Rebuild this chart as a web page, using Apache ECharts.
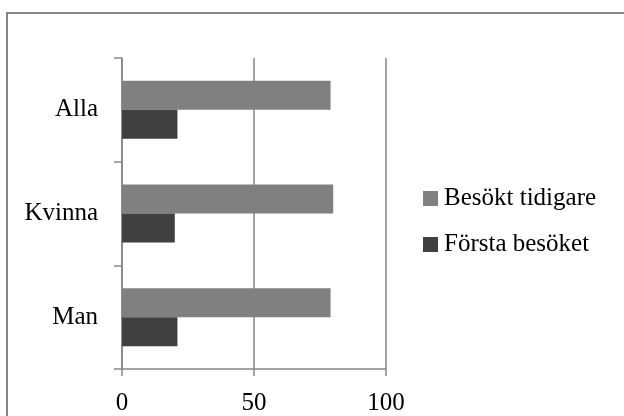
<!DOCTYPE html>
<html>
<head>
<meta charset="utf-8">
<script src="https://cdn.jsdelivr.net/npm/echarts@6/dist/echarts.min.js"></script>
<style>
  html, body { margin: 0; padding: 0; background: #fff; }
  #main { width: 624px; height: 416px; }
</style>
</head>
<body>
<div id="main"></div>
<script>
var chart = echarts.init(document.getElementById("main"));

// kategorier nerifrån och upp
var kategorier = ["Man", "Kvinna", "Alla"];
var forstaBesoket = [21, 20, 21];
var besoktTidigare = [79, 80, 79];
var xTicks = [0, 50, 100];

var font = "'Liberation Serif', 'Times New Roman', serif";
var gra = "#868686";

var option = {
  animation: false,
  backgroundColor: "#fff",
  textStyle: { fontFamily: font },
  // ram runt diagrammet
  graphic: [
    {
      type: "rect",
      shape: { x: 7, y: 13, width: 700, height: 500 },
      style: { fill: "none", stroke: gra, lineWidth: 2 },
      silent: true
    }
  ],
  grid: { left: 122, right: 238, top: 58, bottom: 47 },
  legend: {
    orient: "vertical",
    left: 423,
    top: 186,
    padding: 0,
    itemWidth: 15,
    itemHeight: 15,
    itemGap: 21,
    icon: "rect",
    data: ["Besökt tidigare", "Första besöket"],
    textStyle: { fontFamily: font, fontSize: 25, color: "#000", padding: [0, 0, 0, 1] }
  },
  xAxis: {
    type: "value",
    min: xTicks[0],
    max: xTicks[xTicks.length - 1],
    interval: 50,
    axisLine: { show: true, lineStyle: { color: gra, width: 1.5 } },
    axisTick: { show: true, length: 7, lineStyle: { color: gra, width: 1.5 } },
    splitLine: { show: true, lineStyle: { color: gra, width: 1.5 } },
    axisLabel: { margin: 22, fontFamily: font, fontSize: 25, color: "#000" }
  },
  yAxis: {
    type: "category",
    data: kategorier,
    axisLine: { show: true, lineStyle: { color: gra, width: 1.5 } },
    axisTick: { show: true, length: 8, lineStyle: { color: gra, width: 1.5 } },
    axisLabel: { margin: 24, fontFamily: font, fontSize: 25, color: "#000" }
  },
  series: [
    {
      name: "Besökt tidigare",
      type: "bar",
      data: besoktTidigare,
      itemStyle: { color: "#808080" },
      barGap: "0%",
      barCategoryGap: "44%"
    },
    {
      name: "Första besöket",
      type: "bar",
      data: forstaBesoket,
      itemStyle: { color: "#404040" },
      barGap: "0%",
      barCategoryGap: "44%"
    }
  ]
};

chart.setOption(option);
</script>
</body>
</html>
